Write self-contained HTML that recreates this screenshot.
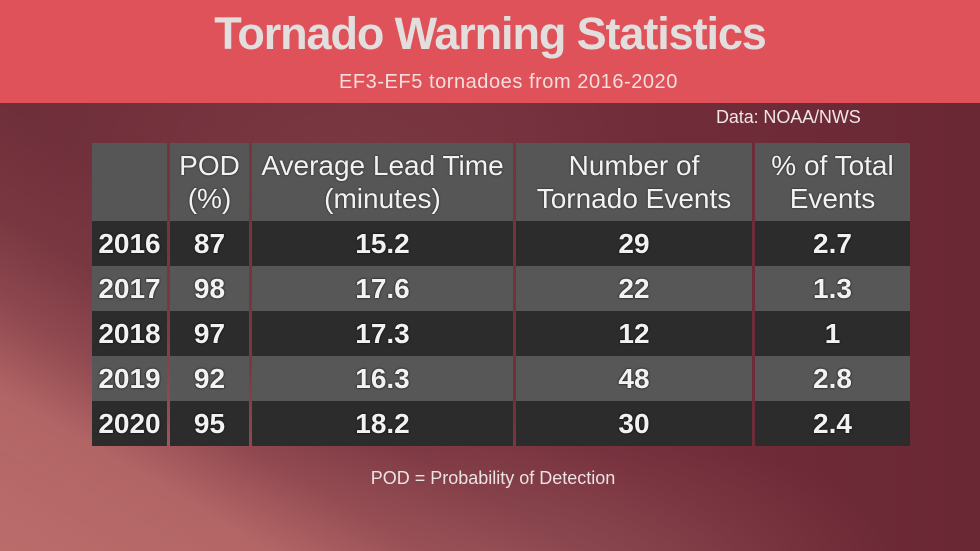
<!DOCTYPE html>
<html><head><meta charset="utf-8">
<style>
html,body{margin:0;padding:0;}
body{width:980px;height:551px;position:relative;overflow:hidden;font-family:"Liberation Sans",Arial,sans-serif;
background:
linear-gradient(30deg, rgba(186,108,107,1) 0%, rgba(182,104,104,0.95) 14%, rgba(165,90,94,0.6) 22%, rgba(150,80,86,0.25) 30%, rgba(140,72,78,0) 40%),
radial-gradient(ellipse 380px 150px at 520px 570px, rgba(145,78,84,0.85) 0%, rgba(145,78,84,0) 100%),
radial-gradient(ellipse 300px 200px at 350px 170px, rgba(128,64,72,0.55) 0%, rgba(128,64,72,0) 100%),
linear-gradient(90deg,#6f2f3a 0%,#742f3c 50%,#6a2834 100%);
}
.banner{position:absolute;left:0;top:0;width:980px;height:103px;background:#e05259;}
.title{position:absolute;left:0;width:980px;top:9px;text-align:center;font-size:45px;font-weight:bold;color:#e3dede;letter-spacing:-1.1px;line-height:50px;}
.sub{position:absolute;left:339px;top:70px;font-size:20px;color:#f3dede;line-height:24px;letter-spacing:0.55px;white-space:nowrap;}
.data{position:absolute;left:716px;top:107px;font-size:18px;color:#efe6e6;line-height:20px;letter-spacing:-0.1px;}
.c{position:absolute;display:flex;align-items:center;justify-content:center;text-align:center;color:#f2f2f2;}
.h{background:#565656;font-size:28px;line-height:33px;text-shadow:0 0 2px rgba(0,0,0,0.6);}
.d{background:#2c2c2c;font-size:28px;font-weight:bold;text-shadow:0 0 2px #000;}
.l{background:#575757;font-size:28px;font-weight:bold;text-shadow:0 0 2px #000;}
.foot{position:absolute;left:0;width:986px;top:467px;text-align:center;font-size:18px;color:#ece2e2;line-height:22px;}
</style></head><body>
<div class="banner"></div>
<div class="title">Tornado Warning Statistics</div>
<div class="sub">EF3-EF5 tornadoes from 2016-2020</div>
<div class="data">Data: NOAA/NWS</div>

<!-- header -->
<div class="c h" style="left:92px;top:143px;width:75px;height:78px;"></div>
<div class="c h" style="left:170px;top:143px;width:79px;height:78px;">POD<br>(%)</div>
<div class="c h" style="left:252px;top:143px;width:261px;height:78px;">Average Lead Time<br>(minutes)</div>
<div class="c h" style="left:516px;top:143px;width:236px;height:78px;">Number of<br>Tornado Events</div>
<div class="c h" style="left:755px;top:143px;width:155px;height:78px;">% of Total<br>Events</div>

<!-- 2016 -->
<div class="c d" style="left:92px;top:221px;width:75px;height:45px;">2016</div>
<div class="c d" style="left:170px;top:221px;width:79px;height:45px;">87</div>
<div class="c d" style="left:252px;top:221px;width:261px;height:45px;">15.2</div>
<div class="c d" style="left:516px;top:221px;width:236px;height:45px;">29</div>
<div class="c d" style="left:755px;top:221px;width:155px;height:45px;">2.7</div>
<!-- 2017 -->
<div class="c l" style="left:92px;top:266px;width:75px;height:45px;">2017</div>
<div class="c l" style="left:170px;top:266px;width:79px;height:45px;">98</div>
<div class="c l" style="left:252px;top:266px;width:261px;height:45px;">17.6</div>
<div class="c l" style="left:516px;top:266px;width:236px;height:45px;">22</div>
<div class="c l" style="left:755px;top:266px;width:155px;height:45px;">1.3</div>
<!-- 2018 -->
<div class="c d" style="left:92px;top:311px;width:75px;height:45px;">2018</div>
<div class="c d" style="left:170px;top:311px;width:79px;height:45px;">97</div>
<div class="c d" style="left:252px;top:311px;width:261px;height:45px;">17.3</div>
<div class="c d" style="left:516px;top:311px;width:236px;height:45px;">12</div>
<div class="c d" style="left:755px;top:311px;width:155px;height:45px;">1</div>
<!-- 2019 -->
<div class="c l" style="left:92px;top:356px;width:75px;height:45px;">2019</div>
<div class="c l" style="left:170px;top:356px;width:79px;height:45px;">92</div>
<div class="c l" style="left:252px;top:356px;width:261px;height:45px;">16.3</div>
<div class="c l" style="left:516px;top:356px;width:236px;height:45px;">48</div>
<div class="c l" style="left:755px;top:356px;width:155px;height:45px;">2.8</div>
<!-- 2020 -->
<div class="c d" style="left:92px;top:401px;width:75px;height:45px;">2020</div>
<div class="c d" style="left:170px;top:401px;width:79px;height:45px;">95</div>
<div class="c d" style="left:252px;top:401px;width:261px;height:45px;">18.2</div>
<div class="c d" style="left:516px;top:401px;width:236px;height:45px;">30</div>
<div class="c d" style="left:755px;top:401px;width:155px;height:45px;">2.4</div>

<div class="foot">POD = Probability of Detection</div>
</body></html>
